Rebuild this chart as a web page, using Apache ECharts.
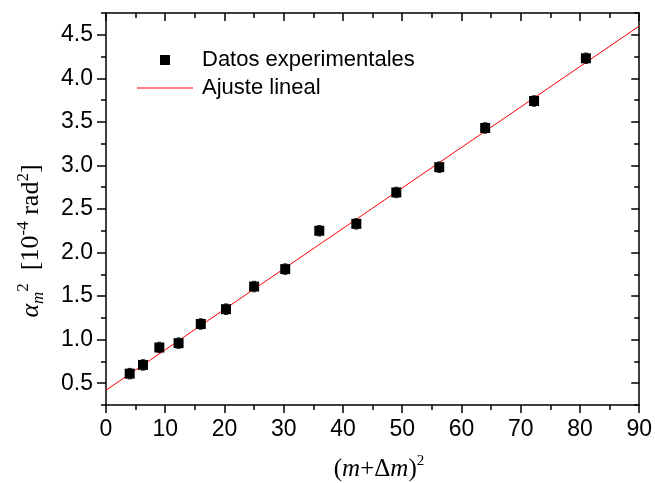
<!DOCTYPE html>
<html><head><meta charset="utf-8">
<script src="https://cdn.jsdelivr.net/npm/echarts@6/dist/echarts.min.js"></script>
<style>html,body{margin:0;padding:0;background:#fff}#c{width:655px;height:483px}</style>
</head><body><div id="c"></div>
<script>
// (m+Δm)^2 values
const xValues = [4, 6.25, 9, 12.25, 16, 20.25, 25, 30.25, 36, 42.25, 49, 56.25, 64, 72.25, 81];
// alpha_m^2 [1e-4 rad^2]
const yValues = [0.61, 0.71, 0.91, 0.96, 1.18, 1.35, 1.61, 1.81, 2.25, 2.33, 2.69, 2.98, 3.43, 3.74, 4.23];
const yErrors = [0.06, 0.06, 0.06, 0.06, 0.06, 0.06, 0.06, 0.06, 0.06, 0.06, 0.06, 0.06, 0.06, 0.06, 0.06];
// linear fit end points
const fitX = [0, 90];
const fitY = [0.42, 4.60];
const yMajorTicks = [0.5, 1.0, 1.5, 2.0, 2.5, 3.0, 3.5, 4.0, 4.5];
const yMinorTicks = [0.25, 0.75, 1.25, 1.75, 2.25, 2.75, 3.25, 3.75, 4.25, 4.75];
const seriesNames = ['Datos experimentales', 'Ajuste lineal'];

const chart = echarts.init(document.getElementById('c'), null, {renderer: 'canvas'});
const SANS = 'Liberation Sans, Arial, sans-serif';
const SERIF = '"Liberation Serif", "Times New Roman", serif';
const lineStyle = {color: '#000', width: 1.5};

const yBase = {type: 'value', min: 0.25, max: 4.75, interval: 0.25, splitLine: {show: false}};
const xBase = {type: 'value', min: 0, max: 90, interval: 10, splitLine: {show: false}};

const option = {
  animation: false,
  backgroundColor: '#fff',
  grid: {left: 106, right: 15, top: 13, bottom: 78, containLabel: false},
  xAxis: [
    Object.assign({}, xBase, {
      position: 'bottom',
      axisLine: {show: true, lineStyle},
      axisTick: {show: true, inside: false, length: 8, lineStyle},
      minorTick: {show: true, splitNumber: 2, length: 5, lineStyle},
      axisLabel: {fontSize: 23, fontFamily: SANS, color: '#000', margin: 13}
    }),
    Object.assign({}, xBase, {
      position: 'top',
      axisLine: {show: true, lineStyle},
      axisTick: {show: true, inside: true, length: 8, lineStyle},
      minorTick: {show: true, splitNumber: 2, length: 5, lineStyle},
      axisLabel: {show: false}
    })
  ],
  yAxis: [
    Object.assign({}, yBase, {
      position: 'left',
      axisLine: {show: true, lineStyle},
      axisTick: {show: true, inside: false, length: 9, lineStyle, customValues: yMajorTicks},
      axisLabel: {fontSize: 23, fontFamily: SANS, color: '#000', margin: 13,
        customValues: yMajorTicks, formatter: v => Number(v).toFixed(1)}
    }),
    Object.assign({}, yBase, {
      position: 'left',
      axisLine: {show: false},
      axisTick: {show: true, inside: false, length: 5, lineStyle, customValues: yMinorTicks},
      axisLabel: {show: false}
    }),
    Object.assign({}, yBase, {
      position: 'right',
      axisLine: {show: true, lineStyle},
      axisTick: {show: true, inside: true, length: 8, lineStyle, customValues: yMajorTicks},
      axisLabel: {show: false}
    }),
    Object.assign({}, yBase, {
      position: 'right',
      axisLine: {show: false},
      axisTick: {show: true, inside: true, length: 5, lineStyle, customValues: yMinorTicks},
      axisLabel: {show: false}
    })
  ],
  legend: [
    {
      data: [{name: seriesNames[0], icon: 'rect'}], left: 160, top: 49, padding: 0,
      itemWidth: 10, itemHeight: 10,
      itemStyle: {color: '#000', opacity: 1},
      textStyle: {fontSize: 22, fontFamily: SANS, color: '#000', padding: [0, 0, 0, 27]}
    },
    {
      data: [{name: seriesNames[1], icon: 'rect'}], left: 137, top: 77, padding: 0,
      itemWidth: 56, itemHeight: 1,
      itemStyle: {color: '#ff0000'},
      textStyle: {fontSize: 22, fontFamily: SANS, color: '#000', padding: [0, 0, 0, 4]}
    }
  ],
  graphic: [
    {
      type: 'text', x: 379, y: 469,
      style: {
        text: '{p|(}{i|m}{p|+Δ}{i|m}{p|)}{s|2}',
        align: 'center', verticalAlign: 'middle',
        fill: '#000',
        font: '25px ' + SERIF,
        rich: {
          p: {font: '25px ' + SERIF, lineHeight: 30, verticalAlign: 'middle', fill: '#000'},
          i: {font: 'italic 25px ' + SERIF, lineHeight: 30, verticalAlign: 'middle', fill: '#000'},
          s: {font: '15px ' + SERIF, lineHeight: 16, verticalAlign: 'top', fill: '#000'}
        }
      }
    },
    {
      type: 'text', x: 31, y: 241, rotation: Math.PI / 2,
      style: {
        text: '{a|α}{sb|m}{sp|2}{t|  [10}{sp|-4}{t| rad}{sp|2}{t|]}',
        align: 'center', verticalAlign: 'middle',
        fill: '#000',
        font: '26px ' + SERIF,
        rich: {
          a: {font: 'italic 26px ' + SERIF, lineHeight: 32, verticalAlign: 'middle', fill: '#000'},
          t: {font: '26px ' + SERIF, lineHeight: 32, verticalAlign: 'middle', fill: '#000'},
          sb: {font: 'italic 17px ' + SERIF, lineHeight: 16, verticalAlign: 'bottom', fill: '#000'},
          sp: {font: '17px ' + SERIF, lineHeight: 16, verticalAlign: 'top', fill: '#000'}
        }
      }
    }
  ],
  series: [
    {
      type: 'custom',
      name: 'err',
      xAxisIndex: 0, yAxisIndex: 0,
      silent: true,
      z: 2,
      encode: {x: 0, y: 1},
      data: xValues.map((x, i) => [x, yValues[i], yErrors[i]]),
      renderItem: function (params, api) {
        const x = api.value(0), y = api.value(1), e = api.value(2);
        const top = api.coord([x, y + e]);
        const bot = api.coord([x, y - e]);
        const st = {stroke: '#222', lineWidth: 1};
        return {
          type: 'group',
          children: [
            {type: 'line', shape: {x1: top[0], y1: top[1], x2: bot[0], y2: bot[1]}, style: st},
            {type: 'line', shape: {x1: top[0] - 2, y1: top[1], x2: top[0] + 2, y2: top[1]}, style: st},
            {type: 'line', shape: {x1: bot[0] - 2, y1: bot[1], x2: bot[0] + 2, y2: bot[1]}, style: st}
          ]
        };
      }
    },
    {
      type: 'scatter',
      name: seriesNames[0],
      xAxisIndex: 0, yAxisIndex: 0,
      symbol: 'rect', symbolSize: 10,
      itemStyle: {color: '#000', opacity: 1},
      z: 4,
      data: xValues.map((x, i) => [x, yValues[i]])
    },
    {
      type: 'line',
      name: seriesNames[1],
      xAxisIndex: 0, yAxisIndex: 0,
      symbol: 'none', showSymbol: false,
      lineStyle: {color: '#ff0000', width: 1},
      itemStyle: {color: '#ff0000'},
      z: 3,
      data: fitX.map((x, i) => [x, fitY[i]])
    }
  ]
};
chart.setOption(option);
</script>
</body></html>
